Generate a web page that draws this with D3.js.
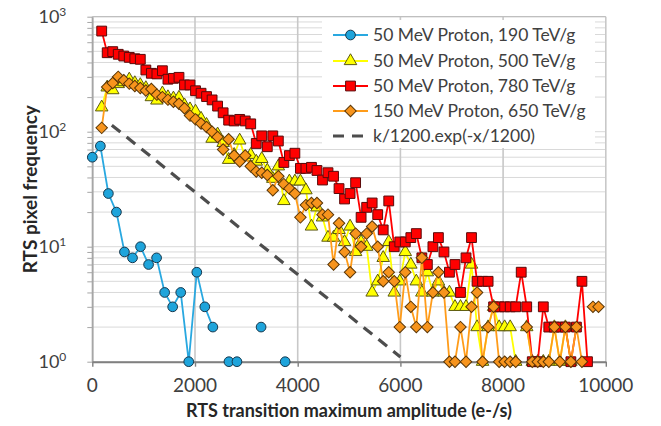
<!DOCTYPE html>
<html>
<head>
<meta charset="utf-8">
<script src="https://cdn.jsdelivr.net/npm/d3@7"></script>
<style>
  body { margin: 0; background: #fff; }
  text { font-family: Lato, "Open Sans", sans-serif; fill: #404040; }
</style>
</head>
<body>
<svg id="chart" width="661" height="426"></svg>
<script>
// amplitude bins (e-/s) shared by the 500 / 780 / 650 TeV/g series
var binX = [183, 290, 398, 505, 613, 720, 828, 935, 1043, 1150,
  1258, 1365, 1473, 1580, 1688, 1795, 1903, 2010, 2118, 2225,
  2333, 2440, 2548, 2655, 2763, 2870, 2978, 3085, 3193, 3300,
  3408, 3515, 3623, 3730, 3838, 3945, 4053, 4160, 4268, 4375,
  4483, 4590, 4698, 4805, 4913, 5020, 5128, 5235, 5343, 5450,
  5558, 5665, 5773, 5880, 5988, 6095, 6203, 6310, 6418, 6525,
  6633, 6740, 6848, 6955, 7063, 7170, 7278, 7385, 7493, 7600,
  7708, 7815, 7923, 8030, 8138, 8245, 8353, 8460, 8568, 8675,
  8783, 8890, 8998, 9105, 9213, 9320, 9428, 9535, 9643, 9750, 9858];

// 50 MeV, 190 TeV/g has its own bins
var blueX = [0, 157, 313, 470, 626, 783, 939, 1096, 1252, 1409,
  1565, 1722, 1878, 2035, 2191, 2348, 2504, 2661, 2817, 2974,
  3130, 3287, 3443, 3600, 3756];
var blueY = [60, 75, 29, 20, 9, 8, 10, 7, 8, 4,
  3, 4, 1, 6, 3, 2, null, 1, 1, null,
  null, 2, null, null, 1];

var yellowY = [163, 243, 230, 260, 270, 285, 265, 255, 240, 200,
  187, 216, 200, 195, 198, 170, 157, 150, 130, 115,
  87, 95, 80, 57, 63, 84, 60, 63, 55, 58,
  46, 39, 50, 25, 37, 37, 37, 31, 15, 22,
  18, 12, 12, 14, 11, 15, 9, 11, 10, 4,
  5, 8, 11, 4, 5, 9, 7, 5, 4, 6,
  4, 5, 4, 4, 3, 3, 3, 7, 2, 1,
  2, 3, 2, 2, 2, 1, null, 2, 1, 1,
  1, 1, 2, 1, 2, 1];

var redY = [750, 486, 497, 471, 455, 443, 431, 426, 344, 322,
  318, 339, 286, 291, 297, 255, 255, 227, 216, 202,
  189, 167, 146, 126, 124, 128, 124, 117, 79, 92,
  74, 92, 83, 54, 62, 65, 48, 48, 49, 46,
  38, 44, 41, 32, 26, 29, 36, 18, 22, 24,
  19, 14, 25, 10, 11, 11, 12, 13, 8, 7,
  10, 12, 9, 6, 7, 4, 8, 12, 5, 5,
  5, 3, 3, 3, 3, 3, 6, 3, 1, 1,
  3, 2, 2, 2, 2, 1, 2, 5, 1];

var orangeY = [108, 245, 265, 300, 280, 262, 250, 240, 228, 235,
  210, 200, 190, 182, 175, 160, 138, 128, 118, 110,
  100, 90, 70, 86, 62, 55, 62, 50, 45, 44,
  42, 31, 41, 35, 32, 29, 18, 23, 24, 24,
  19, 19, 7, 16, 9, 6, 13, 10, 13, 15,
  10, 5, 6, 5, 2, 6, 3, 2, 8, 2,
  4, 6, 4, 1, 1, 2, 1, 3, 4, 1,
  2, 3, 1, 1, 1, 1, null, 2, 1, 1,
  1, 1, 2, 1, 2, 1, 2, 1, null, 3, 3];

// k/1200.exp(-x/1200): straight on a log axis, so the two ends are enough
var fitX = [380, 6000];
var fitY = [114, 1.1];

var seriesNames = ["50 MeV Proton, 190 TeV/g", "50 MeV Proton, 500 TeV/g",
  "50 MeV Proton, 780 TeV/g", "150 MeV Proton, 650 TeV/g", "k/1200.exp(-x/1200)"];
var xTicks = [0, 2000, 4000, 6000, 8000, 10000];
var yTicks = [1, 10, 100, 1000];
var yExp = ["0", "1", "2", "3"];

var margin = {top: 16.7, left: 92.3},
    width = 513.5,
    height = 345;

var svg = d3.select("#chart");
svg.append("rect").attr("width", 661).attr("height", 426).attr("fill", "#fff");

var g = svg.append("g")
    .attr("transform", "translate(" + margin.left + "," + margin.top + ")");

var x = d3.scaleLinear().domain([0, 10000]).range([0, width]);
var y = d3.scaleLog().domain([1, 1000]).range([height, 0]);

////////// grid //////////
g.append("g").selectAll("line")
    .data(y.ticks())
    .enter().append("line")
    .attr("x1", 0).attr("x2", width)
    .attr("y1", function(d) { return y(d); })
    .attr("y2", function(d) { return y(d); })
    .attr("stroke", "#d9d9d9").attr("stroke-width", 1);

g.append("g").selectAll("line")
    .data(xTicks)
    .enter().append("line")
    .attr("x1", function(d) { return x(d); })
    .attr("x2", function(d) { return x(d); })
    .attr("y1", 0).attr("y2", height)
    .attr("stroke", "#c8c8c8").attr("stroke-width", 1.6);

// frame
g.append("line").attr("x1", 0).attr("x2", width).attr("y1", 0).attr("y2", 0)
    .attr("stroke", "#bfbfbf").attr("stroke-width", 1.2);

////////// axes //////////
var yAxis = g.append("g")
    .call(d3.axisLeft(y).tickValues(y.ticks()).tickFormat("").tickSize(5).tickSizeOuter(0));
yAxis.select(".domain").attr("stroke", "#a6a6a6").attr("stroke-width", 1.6);
yAxis.selectAll(".tick line").attr("stroke", "#a6a6a6");

var xAxis = g.append("g")
    .attr("transform", "translate(0," + height + ")")
    .call(d3.axisBottom(x).tickValues(xTicks).tickFormat("").tickSize(5).tickSizeOuter(0));
xAxis.select(".domain").attr("stroke", "#808080").attr("stroke-width", 2);
xAxis.selectAll(".tick line").attr("stroke", "#808080").attr("stroke-width", 1.4);

// tick labels
g.append("g").selectAll("text")
    .data(xTicks)
    .enter().append("text")
    .attr("x", function(d) { return x(d); })
    .attr("y", height + 30)
    .attr("text-anchor", "middle")
    .style("font-size", "19px")
    .text(function(d) { return d; });

var yLab = g.append("g").selectAll("text")
    .data(yTicks)
    .enter().append("text")
    .attr("x", -26)
    .attr("y", function(d) { return y(d) + 6; })
    .attr("text-anchor", "end")
    .style("font-size", "18px");
yLab.append("tspan").text("10");
yLab.append("tspan")
    .attr("dy", -7)
    .style("font-size", "12px")
    .text(function(d, i) { return yExp[i]; });

// axis titles
svg.append("text")
    .attr("x", margin.left + width / 2)
    .attr("y", 417)
    .attr("text-anchor", "middle")
    .style("font-size", "18px")
    .style("font-weight", "bold")
    .style("fill", "#262626")
    .text("RTS transition maximum amplitude (e-/s)");

svg.append("text")
    .attr("transform", "translate(37," + (margin.top + height / 2) + ") rotate(-90)")
    .attr("text-anchor", "middle")
    .style("font-size", "19px")
    .style("font-weight", "bold")
    .style("fill", "#262626")
    .text("RTS pixel frequency");

////////// series //////////
var series = [
  {xs: blueX, ys: blueY, line: "#29a8e0", fill: "#1ea4db", stroke: "#17384d", shape: d3.symbolCircle, size: 74, rot: 0},
  {xs: binX, ys: yellowY, line: "#ffff00", fill: "#ffff00", stroke: "#5c5a10", shape: d3.symbolTriangle, size: 68, rot: 0},
  {xs: binX, ys: redY, line: "#ff0000", fill: "#ff0000", stroke: "#5a0a0a", shape: d3.symbolSquare, size: 96, rot: 0},
  {xs: binX, ys: orangeY, line: "#ff9c1a", fill: "#f7941d", stroke: "#5a3606", shape: d3.symbolSquare, size: 66, rot: 45}
];

var line = d3.line()
    .defined(function(d) { return d.v != null; })
    .x(function(d) { return x(d.x); })
    .y(function(d) { return y(d.v); });

series.forEach(function(s) {
  var pts = s.ys.map(function(v, i) { return {x: s.xs[i], v: v}; });
  g.append("path")
      .datum(pts)
      .attr("fill", "none")
      .attr("stroke", s.line)
      .attr("stroke-width", 1.8)
      .attr("d", line);
  g.append("g").selectAll("path")
      .data(pts.filter(function(d) { return d.v != null; }))
      .enter().append("path")
      .attr("d", d3.symbol().type(s.shape).size(s.size))
      .attr("transform", function(d) {
        return "translate(" + x(d.x) + "," + y(d.v) + ") rotate(" + s.rot + ")";
      })
      .attr("fill", s.fill)
      .attr("stroke", s.stroke)
      .attr("stroke-width", 1);
});

// fitted exponential
g.append("line")
    .attr("x1", x(fitX[0])).attr("y1", y(fitY[0]))
    .attr("x2", x(fitX[1])).attr("y2", y(fitY[1]))
    .attr("stroke", "#4d4d4d")
    .attr("stroke-width", 3.2)
    .attr("stroke-dasharray", "11,8");

////////// legend //////////
var legend = svg.append("g").attr("transform", "translate(322,20)");
legend.append("rect")
    .attr("width", 273).attr("height", 128)
    .attr("fill", "#fff");

var rowY = [15, 41, 66, 91, 116];
seriesNames.forEach(function(name, i) {
  var row = legend.append("g").attr("transform", "translate(0," + rowY[i] + ")");
  if (i < 4) {
    var s = series[i];
    row.append("line").attr("x1", 11).attr("x2", 46)
        .attr("stroke", s.line).attr("stroke-width", 1.8);
    row.append("path")
        .attr("d", d3.symbol().type(s.shape).size(s.size))
        .attr("transform", "translate(28.5,0) rotate(" + s.rot + ")")
        .attr("fill", s.fill).attr("stroke", s.stroke).attr("stroke-width", 1);
  } else {
    row.append("line").attr("x1", 11).attr("x2", 46)
        .attr("stroke", "#4d4d4d").attr("stroke-width", 3.2)
        .attr("stroke-dasharray", "11,8");
  }
  row.append("text")
      .attr("x", 51).attr("y", 6)
      .style("font-size", "17.5px")
      .text(name);
});
</script>
</body>
</html>
